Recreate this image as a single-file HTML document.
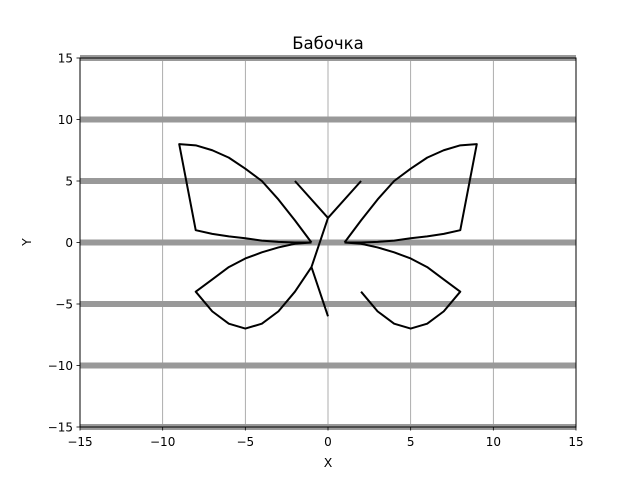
<!DOCTYPE html>
<html><head><meta charset="utf-8"><style>
body{margin:0;background:#fff;}
svg text{font-family:"DejaVu Sans","Liberation Sans",sans-serif;}
</style></head><body>
<svg id="chart" width="640" height="480" xmlns="http://www.w3.org/2000/svg">
<rect width="640" height="480" fill="#fff"/>
<g id="grid"></g>
<g id="marks"></g>
<rect x="80" y="58" width="496" height="369" fill="none" stroke="#000" stroke-width="1"/>
<g id="axes"></g>
<text x="328" y="49" text-anchor="middle" font-size="16.5">Бабочка</text>
<text x="328" y="467" text-anchor="middle" font-size="12.5">X</text>
<text x="31" y="242" text-anchor="middle" font-size="12.5" transform="rotate(-90 31 242)">Y</text>
</svg>
<script>
const xTicks=[-15,-10,-5,0,5,10,15];
const yTicks=[-15,-10,-5,0,5,10,15];
// segments of the butterfly (x and y arrays, null = break)
const seriesX=[-1,-2,-3,-4,-5,-6,-7,-8,-9,-8,-7,-6,-5,-4,-3,-2,-1,null,
 -1,-2,-3,-4,-5,-6,-7,-8,-7,-6,-5,-4,-3,-2,-1,0,null,
 -2,0,2,null,0,-1,null,
 1,2,3,4,5,6,7,8,9,8,7,6,5,4,3,2,1,null,
 1,2,3,4,5,6,7,8,7,6,5,4,3,2];
const seriesY=[0,1.8,3.5,5,6,6.9,7.5,7.9,8,1,0.7,0.5,0.35,0.15,0.05,0,0,null,
 0,-0.1,-0.4,-0.8,-1.3,-2,-3,-4,-5.6,-6.6,-7,-6.6,-5.6,-4,-2,-6,null,
 5,2,5,null,2,-2,null,
 0,1.8,3.5,5,6,6.9,7.5,7.9,8,1,0.7,0.5,0.35,0.15,0.05,0,0,null,
 0,-0.1,-0.4,-0.8,-1.3,-2,-3,-4,-5.6,-6.6,-7,-6.6,-5.6,-4];
const X=v=>80+(v+15)/30*496;
const Y=v=>427-(v+15)/30*369;
const NS="http://www.w3.org/2000/svg";
const grid=document.getElementById('grid'),axes=document.getElementById('axes'),marks=document.getElementById('marks');
function mk(t,a){const e=document.createElementNS(NS,t);for(const k in a)e.setAttribute(k,a[k]);return e;}
xTicks.forEach(t=>{
 const l=mk('line',{x1:X(t),x2:X(t),y1:58,y2:427,stroke:'#999','stroke-width':0.8});
 
 
 grid.appendChild(l);
 const k=mk('line',{x1:X(t),x2:X(t),y1:427,y2:430.5,stroke:'#000','stroke-width':0.8});
 
 
 axes.appendChild(k);
 const tx=mk('text',{x:X(t),y:446,'text-anchor':'middle','font-size':12});
 tx.textContent=(t<0?'\u2212'+(-t):t);
 
 
 axes.appendChild(tx);
});
yTicks.forEach(t=>{
 const l=mk('line',{x1:80,x2:576,y1:Y(t),y2:Y(t),stroke:'#999','stroke-width':6});
 
 
 grid.appendChild(l);
 const k=mk('line',{x1:76.5,x2:80,y1:Y(t),y2:Y(t),stroke:'#000','stroke-width':0.8});
 
 
 axes.appendChild(k);
 const tx=mk('text',{x:73,y:Y(t)+4.5,'text-anchor':'end','font-size':12});
 tx.textContent=(t<0?'\u2212'+(-t):t);
 
 
 axes.appendChild(tx);
});
let d='',pen=false;
for(let i=0;i<seriesX.length;i++){
 if(seriesX[i]===null){pen=false;continue;}
 d+=(pen?'L':'M')+X(seriesX[i]).toFixed(2)+' '+Y(seriesY[i]).toFixed(2)+' ';pen=true;
}
const p=mk('path',{d:d,fill:'none',stroke:'#000','stroke-width':2,'stroke-linejoin':'round'});


marks.appendChild(p);
</script>
</body></html>
